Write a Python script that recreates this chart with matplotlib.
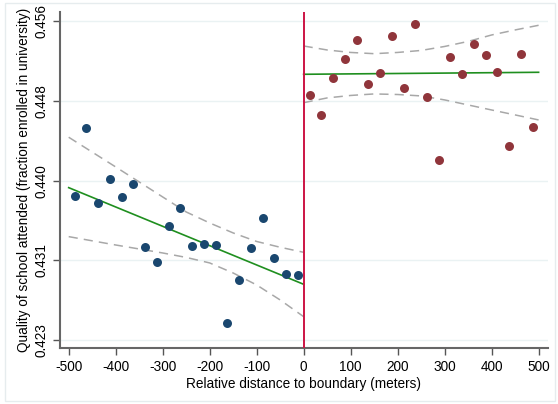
import matplotlib.pyplot as plt
import numpy as np
from matplotlib.patches import Rectangle

plt.rcParams['font.family'] = ['Liberation Sans', 'DejaVu Sans']
plt.rcParams['axes.unicode_minus'] = False

# binned means, left of boundary
x_left = [-487.5, -462.5, -437.5, -412.5, -387.5, -362.5, -337.5, -312.5, -287.5, -262.5,
          -237.5, -212.5, -187.5, -162.5, -137.5, -112.5, -87.5, -62.5, -37.5, -12.5]
y_left = [0.43803, 0.44516, 0.43729, 0.43982, 0.43792, 0.43926, 0.43265, 0.43101, 0.43483, 0.43670,
          0.43270, 0.43294, 0.43280, 0.42465, 0.42911, 0.43249, 0.43565, 0.43143, 0.42981, 0.42970]

# binned means, right of boundary
x_right = [12.5, 37.5, 62.5, 87.5, 112.5, 137.5, 162.5, 187.5, 212.5, 237.5,
           262.5, 287.5, 312.5, 337.5, 362.5, 387.5, 412.5, 437.5, 462.5, 487.5]
y_right = [0.44863, 0.44653, 0.45045, 0.45239, 0.45439, 0.44982, 0.45095, 0.45481, 0.44940, 0.45614,
           0.44839, 0.44179, 0.45260, 0.45084, 0.45404, 0.45281, 0.45105, 0.44329, 0.45298, 0.44523]

# linear fits
fit_left_x = [-500, 0]
fit_left_y = [0.43887, 0.42869]
fit_right_x = [0, 500]
fit_right_y = [0.45081, 0.45102]

# confidence bands
ci_left_x = [-500, -400, -300, -250, -200, -150, -100, -50, 0]
ci_left_hi = [0.44418, 0.44105, 0.43789, 0.43631, 0.43515, 0.43410, 0.43320, 0.43259, 0.43206]
ci_left_lo = [0.43371, 0.43283, 0.43199, 0.43152, 0.43094, 0.42988, 0.42862, 0.42704, 0.42528]
ci_right_x = [0, 50, 100, 150, 200, 250, 300, 350, 400, 450, 500]
ci_right_hi = [0.45379, 0.45337, 0.45311, 0.45298, 0.45311, 0.45332, 0.45374, 0.45427, 0.45495, 0.45548, 0.45597]
ci_right_lo = [0.44782, 0.44832, 0.44858, 0.44874, 0.44868, 0.44853, 0.44811, 0.44758, 0.44705, 0.44653, 0.44600]

yticks = [0.4228, 0.4312, 0.4396, 0.4480, 0.4564]
ytick_labels = ['0.423', '0.431', '0.440', '0.448', '0.456']
xticks = [-500, -400, -300, -200, -100, 0, 100, 200, 300, 400, 500]

fig = plt.figure(figsize=(5.58, 4.04), dpi=100)
ax = fig.add_axes([60/558, 1-348/404, 488/558, 336/404])

# faint outer frame
fig.patches.append(Rectangle((5/558, 3/404), 550/558, 398/404, transform=fig.transFigure,
                             fill=False, edgecolor='#e6ecee', lw=1))

for y in yticks:
    ax.axhline(y, color='#eaf2f3', lw=1, zorder=0)

ax.plot(ci_left_x, ci_left_hi, '--', color='#a8a8a8', lw=1.1, dashes=(6, 4))
ax.plot(ci_left_x, ci_left_lo, '--', color='#a8a8a8', lw=1.1, dashes=(6, 4))
ax.plot(ci_right_x, ci_right_hi, '--', color='#a8a8a8', lw=1.1, dashes=(6, 4))
ax.plot(ci_right_x, ci_right_lo, '--', color='#a8a8a8', lw=1.1, dashes=(6, 4))

ax.plot(fit_left_x, fit_left_y, color='#1f8f1f', lw=1.2)
ax.plot(fit_right_x, fit_right_y, color='#1f8f1f', lw=1.2)

ax.scatter(x_left, y_left, s=42, color='#1a476f', zorder=3, linewidths=0)
ax.scatter(x_right, y_right, s=42, color='#90353b', zorder=3, linewidths=0)

ax.axvline(0, color='#cc1444', lw=1.4, zorder=4)

ax.set_xlim(-518.5, 520)
ax.set_ylim(0.42198, 0.45737)
ax.set_xticks(xticks)
ax.set_yticks(yticks)
ax.set_yticklabels(ytick_labels, rotation=90, va='center')
ax.tick_params(labelsize=9.8, color='#555555', length=5, width=1, direction='out')

for s in ['top', 'right']:
    ax.spines[s].set_visible(False)
for s in ['left', 'bottom']:
    ax.spines[s].set_color('#666666')
    ax.spines[s].set_linewidth(1.5)

ax.set_xlabel('Relative distance to boundary (meters)', fontsize=9.8, labelpad=2)
ax.set_ylabel('Quality of school attended (fraction enrolled in university)', fontsize=9.8, labelpad=2)

fig.savefig('out.png', dpi=100)
